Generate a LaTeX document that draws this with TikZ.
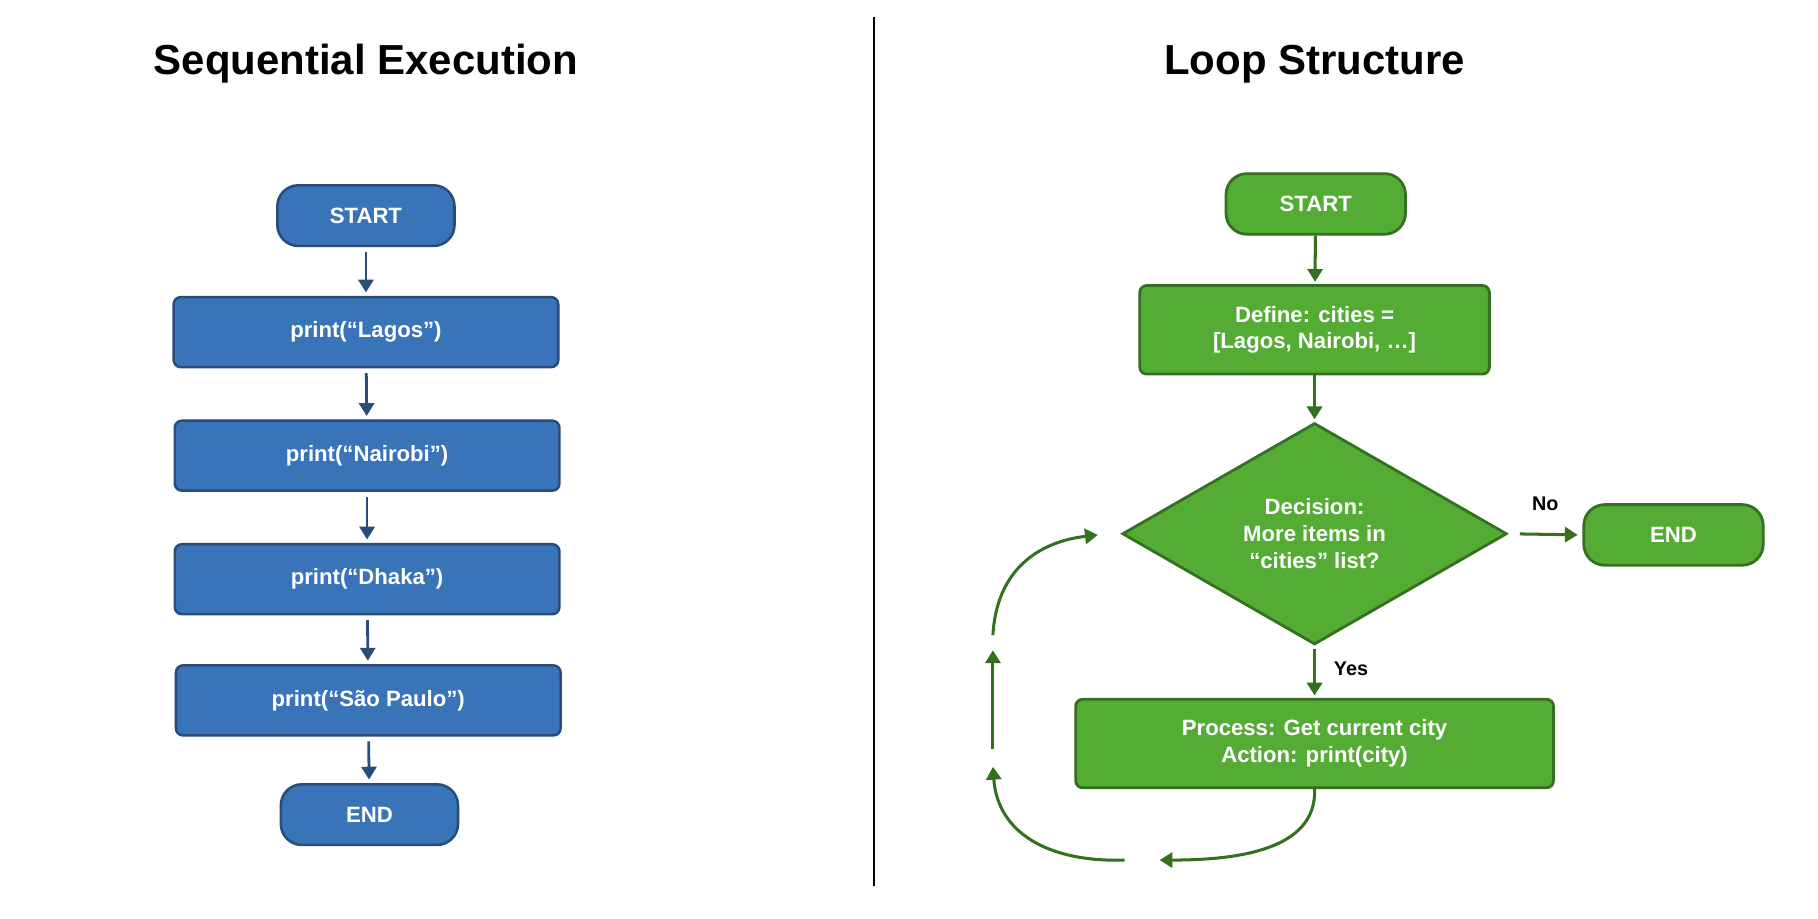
\documentclass[tikz,border=0pt]{standalone}
\usepackage{fontspec}
\setmainfont{Liberation Sans}
\usetikzlibrary{shapes.geometric,arrows.meta}
\definecolor{bfill}{HTML}{3A74B8}\definecolor{bdraw}{HTML}{284D7C}
\definecolor{gfill}{HTML}{55AC35}\definecolor{gdraw}{HTML}{33701F}
\begin{document}
\begin{tikzpicture}[x=1pt,y=-1pt,
  txt/.style={text=white,font=\fontsize{19}{23}\selectfont\bfseries,align=center,inner sep=0},
  bterm/.style={txt,draw=bdraw,fill=bfill,line width=2.2pt,rounded corners=18pt,minimum width=152pt,minimum height=52pt},
  bbox/.style={txt,draw=bdraw,fill=bfill,line width=2.2pt,rounded corners=6pt,minimum width=330pt,minimum height=60pt},
  gterm/.style={txt,draw=gdraw,fill=gfill,line width=2.4pt,rounded corners=18pt,minimum width=154pt,minimum height=52pt},
  gbox/.style={txt,draw=gdraw,fill=gfill,line width=2.4pt,rounded corners=6pt,minimum height=76pt},
  barr/.style={draw=bdraw,line width=2.4pt,-{Triangle[length=11pt,width=13pt]}},
  garr/.style={draw=gdraw,line width=2.6pt,-{Triangle[length=11pt,width=13pt]},shorten >=2pt},
  gline/.style={draw=gdraw,line width=2.6pt},
  title/.style={font=\fontsize{36}{40}\selectfont\bfseries}]
\useasboundingbox (0,0) rectangle (1560,788);
\node[title] (t1) at (314,55) {Sequential Execution};
\node[title] (t2) at (1128,55) {Loop Structure};
\coordinate (d1) at (750,15); \coordinate (d2) at (750,760);
\draw[line width=1.2pt] (d1) -- (d2);
% left
\node[bterm] (s) at (314,185) {START};
\node[bbox] (b1) at (314,285) {print(“Lagos”)};
\node[bbox] (b2) at (315,391) {print(“Nairobi”)};
\node[bbox] (b3) at (315,497) {print(“Dhaka”)};
\node[bbox] (b4) at (316,601) {print(“São Paulo”)};
\node[bterm] (e) at (317,699) {END};
\foreach \a/\b in {s/b1,b1/b2,b2/b3,b3/b4,b4/e}
  \draw[barr,shorten <=4pt,shorten >=3pt] (\a) -- (\b);
% right
\node[gterm] (gs) at (1129,175) {START};
\node[gbox,minimum width=300pt] (def) at (1128,283) {Define: cities =\\{}[Lagos, Nairobi, …]};
\node[diamond,txt,draw=gdraw,fill=gfill,line width=2.4pt,minimum width=330pt,minimum height=190pt] (dec) at (1128,458) {Decision:\\More items in\\“cities” list?};
\node[gterm] (ge) at (1436,459) {END};
\node[gbox,minimum width=410pt] (proc) at (1128,638) {Process: Get current city\\Action: print(city)};
\draw[garr] (gs) -- (def);
\draw[garr] (def) -- (dec);
\draw[garr,shorten <=3pt] (dec) -- (proc) node[pos=0.45,right=12pt,font=\fontsize{17}{20}\selectfont\bfseries]{Yes};
\draw[garr,shorten <=10pt,shorten >=4pt] (dec.east) -- (ge.west) node[midway,above=16pt,font=\fontsize{17}{20}\selectfont\bfseries]{No};
\coordinate (l1) at (995,738); \coordinate (l2) at (965,738);
\coordinate (l3) at (852,658); \coordinate (l4) at (852,643);
\coordinate (l5) at (852,558); \coordinate (l6) at (852,545);
\coordinate (l7) at (942,459);
\draw[garr,shorten >=0pt] (proc.south) .. controls (1130,730) and (1060,738) .. (l1);
\draw[garr,shorten >=0pt] (l2) .. controls (900,740) and (856,715) .. (l3);
\draw[garr,shorten >=0pt] (l4) -- (l5);
\draw[garr,shorten >=0pt] (l6) .. controls (855,490) and (890,465) .. (l7);
\end{tikzpicture}
\end{document}
